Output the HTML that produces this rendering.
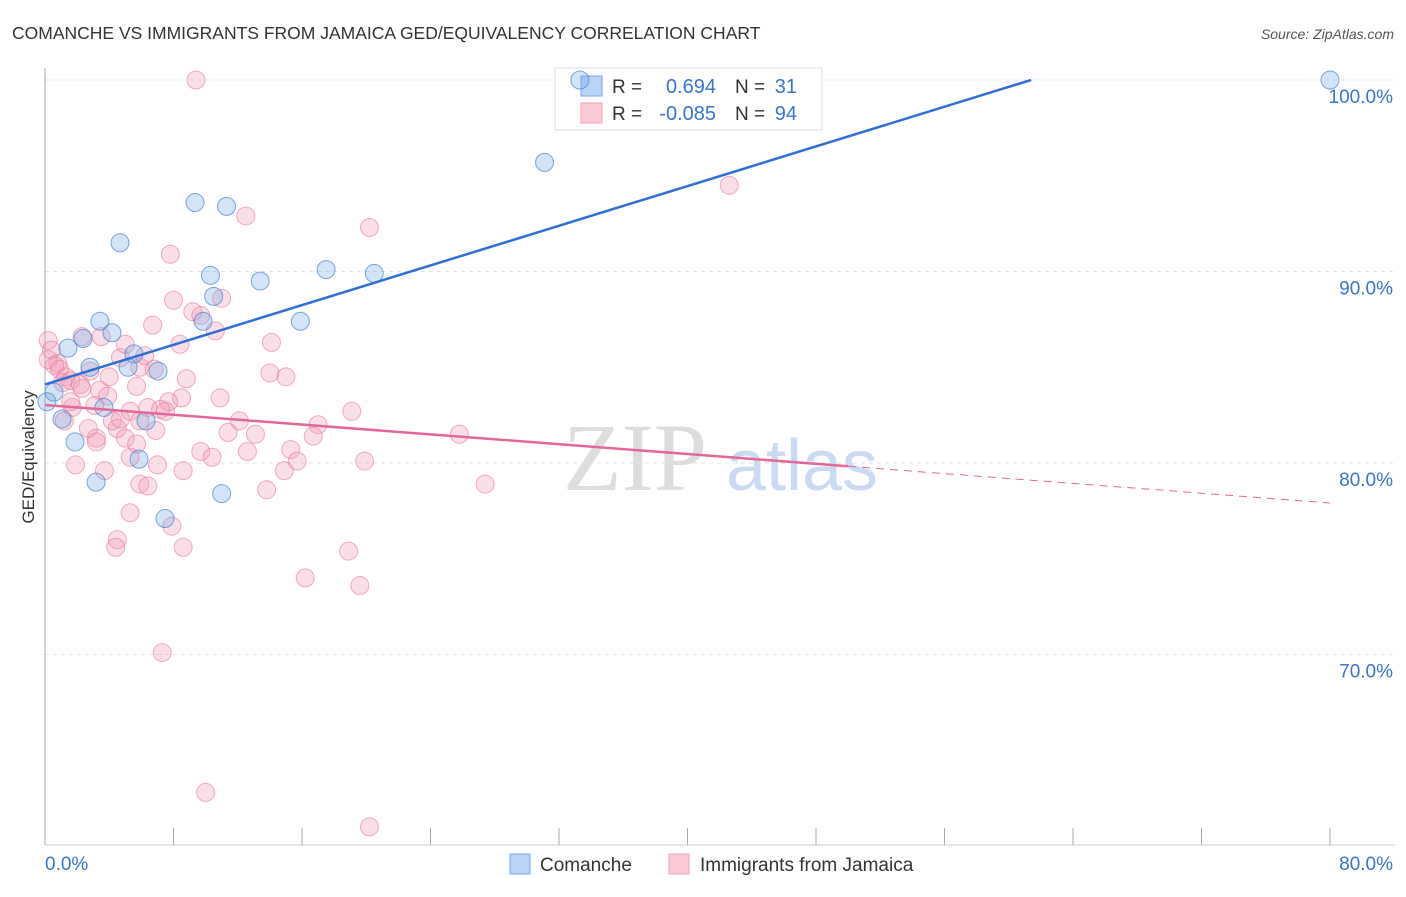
<!DOCTYPE html>
<html><head><meta charset="utf-8"><style>
body{margin:0;background:#fff;font-family:"Liberation Sans",sans-serif}
</style></head><body>
<svg width="1406" height="892" xmlns="http://www.w3.org/2000/svg" id="svg" style="font-family:'Liberation Sans',sans-serif">
<text x="12" y="39" font-size="17.5" fill="#333">COMANCHE VS IMMIGRANTS FROM JAMAICA GED/EQUIVALENCY CORRELATION CHART</text>
<text x="1394" y="39" font-size="14" fill="#555" font-style="italic" text-anchor="end">Source: ZipAtlas.com</text>
<g>
<text x="635" y="490" font-size="96" fill="#ddd" font-family="Liberation Serif,serif" text-anchor="middle">ZIP</text>
<text x="802" y="490" font-size="72" fill="#c9daf2" text-anchor="middle">atlas</text>
</g>
<g id="grid"></g>
<g id="axes"></g>
<g>
<rect x="555" y="68" width="267" height="62" fill="#fff" stroke="#ddd"/>
<rect x="581" y="76" width="21" height="20" fill="#b8d3f5" stroke="#7aa8e6"/>
<rect x="581" y="103" width="21" height="20" fill="#fbc8d6" stroke="#f0a0b8"/>
<text x="612" y="93" font-size="19" fill="#333">R =</text>
<text x="716" y="93" font-size="20" fill="#3a74d0" text-anchor="end">0.694</text>
<text x="735" y="93" font-size="19" fill="#333">N =</text>
<text x="797" y="93" font-size="20" fill="#3a74d0" text-anchor="end">31</text>
<text x="612" y="120" font-size="19" fill="#333">R =</text>
<text x="716" y="120" font-size="20" fill="#3a74d0" text-anchor="end">-0.085</text>
<text x="735" y="120" font-size="19" fill="#333">N =</text>
<text x="797" y="120" font-size="20" fill="#3a74d0" text-anchor="end">94</text>
</g>
<g id="pts"></g>
<g id="lines"></g>
<text transform="translate(34,457) rotate(-90)" font-size="17" fill="#333" text-anchor="middle">GED/Equivalency</text>
<g>
<rect x="510" y="854" width="20" height="20" fill="#b8d3f5" stroke="#7aa8e6"/>
<text x="540" y="871" font-size="19" fill="#333">Comanche</text>
<rect x="669" y="854" width="20" height="20" fill="#fbc8d6" stroke="#f0a0b8"/>
<text x="700" y="871" font-size="19" fill="#333">Immigrants from Jamaica</text>
</g>
</svg>
<script>
const yTicks=[100,90,80,70];
const yTickLabels=["100.0%","90.0%","80.0%","70.0%"];
const xTicks=[0,8,16,24,32,40,48,56,64,72,80];
const blueX=[33.3,80,31.1,9.34,11.3,4.67,10.3,13.4,17.5,20.5,10.5,3.42,9.84,15.9,4.17,2.37,1.43,5.54,2.8,5.17,7.04,0.56,0.12,1.06,3.67,6.29,1.87,5.85,3.18,11.0,7.47];
const blueY=[100,100,95.7,93.6,93.4,91.5,89.8,89.5,90.1,89.9,88.7,87.4,87.4,87.4,86.8,86.5,86.0,85.7,85.0,85.0,84.8,83.7,83.2,82.3,82.9,82.2,81.1,80.2,79.0,78.4,77.1];
const pinkX=[9.4,42.6,12.5,20.2,7.8,11.0,8.0,9.2,9.7,6.7,10.6,2.3,3.5,0.2,14.1,0.4,4.7,0.8,0.2,0.6,0.9,1.3,1.1,1.6,2.2,2.8,4.0,5.9,6.8,8.8,14.0,15.0,5.7,3.4,2.3,10.9,8.5,7.7,6.4,7.2,7.5,1.7,19.1,17.0,16.7,13.1,11.4,6.9,4.2,2.7,4.5,3.2,5.0,5.7,9.7,12.6,15.3,25.8,5.3,10.4,15.7,19.9,1.9,3.7,7.0,8.6,14.9,5.9,6.4,13.8,27.4,5.3,7.9,4.5,4.4,8.6,18.9,16.2,19.6,7.3,10.0,20.2,1.2,1.6,3.2,4.7,5.3,3.1,3.9,6.2,5.0,8.4,12.1,5.9];
const pinkY=[100,94.5,92.9,92.3,90.9,88.6,88.5,87.9,87.7,87.2,86.9,86.6,86.6,86.4,86.3,85.9,85.5,85.2,85.4,85.1,84.9,84.5,84.2,84.3,84.1,84.8,84.5,85.0,84.9,84.4,84.7,84.5,84.0,83.8,83.9,83.4,83.4,83.2,82.9,82.8,82.7,82.9,82.7,82.0,81.4,81.5,81.6,81.7,82.2,81.8,81.8,81.3,81.3,81.0,80.6,80.6,80.7,81.5,80.3,80.3,80.1,80.1,79.9,79.6,79.9,79.6,79.6,78.9,78.8,78.6,78.9,77.4,76.7,76.0,75.6,75.6,75.4,74.0,73.6,70.1,62.8,61.0,82.2,83.2,81.1,82.3,82.7,83.0,83.5,85.6,86.2,86.2,82.2,82.2];
const blueFit=[84.1,0.259];
const pinkFit=[83.03,-0.064];
const pinkSolidEnd=50;

const X=v=>45+v*1285/80;
const Y=v=>80+(100-v)*19.15;
const NS="http://www.w3.org/2000/svg";
function mk(tag,attrs,parent){const e=document.createElementNS(NS,tag);for(const k in attrs)e.setAttribute(k,attrs[k]);document.getElementById(parent).appendChild(e);return e;}
yTicks.forEach((t,i)=>{
 const l=mk('line',{x1:45,x2:1395,y1:Y(t),y2:Y(t),stroke:'#e2e2e2','stroke-dasharray':'4,4'},'grid');
 
 
 const tx=mk('text',{x:1393,y:Y(t)+23,'font-size':19,fill:'#3a74d0','text-anchor':'end'},'grid');
 tx.textContent=yTickLabels[i];
 
 
});
const ax=mk('line',{x1:45,x2:45,y1:68,y2:845,stroke:'#aaa'},'axes');


const bx=mk('line',{x1:45,x2:1395,y1:845,y2:845,stroke:'#ccc'},'axes');


xTicks.forEach(t=>{
 const l=mk('line',{x1:X(t),x2:X(t),y1:828,y2:845,stroke:'#aaa'},'axes');
 
 
});
const xl0=mk('text',{x:45,y:870,'font-size':19,fill:'#3a74d0'},'axes');xl0.textContent='0.0%';


const xl1=mk('text',{x:1393,y:870,'font-size':19,fill:'#3a74d0','text-anchor':'end'},'axes');xl1.textContent='80.0%';


pinkX.forEach((x,i)=>{
 const c=mk('circle',{cx:X(x),cy:Y(pinkY[i]),r:9,fill:'rgba(242,150,180,0.3)',stroke:'rgba(230,120,155,0.6)','stroke-width':1},'pts');
 
 
});
blueX.forEach((x,i)=>{
 const c=mk('circle',{cx:X(x),cy:Y(blueY[i]),r:9,fill:'rgba(110,165,230,0.3)',stroke:'rgba(70,130,210,0.7)','stroke-width':1},'pts');
 
 
});
const bEnd=(100-blueFit[0])/blueFit[1];
const bl=mk('line',{x1:X(0),y1:Y(blueFit[0]),x2:X(bEnd),y2:Y(100),stroke:'#2e6fd6','stroke-width':2.5},'lines');


const pl=mk('line',{x1:X(0),y1:Y(pinkFit[0]),x2:X(pinkSolidEnd),y2:Y(pinkFit[0]+pinkFit[1]*pinkSolidEnd),stroke:'#e4679a','stroke-width':2.5},'lines');


const pd=mk('line',{x1:X(pinkSolidEnd),y1:Y(pinkFit[0]+pinkFit[1]*pinkSolidEnd),x2:X(80),y2:Y(pinkFit[0]+pinkFit[1]*80),stroke:'#e4679a','stroke-width':1,'stroke-dasharray':'8,6'},'lines');


</script>
</body></html>
